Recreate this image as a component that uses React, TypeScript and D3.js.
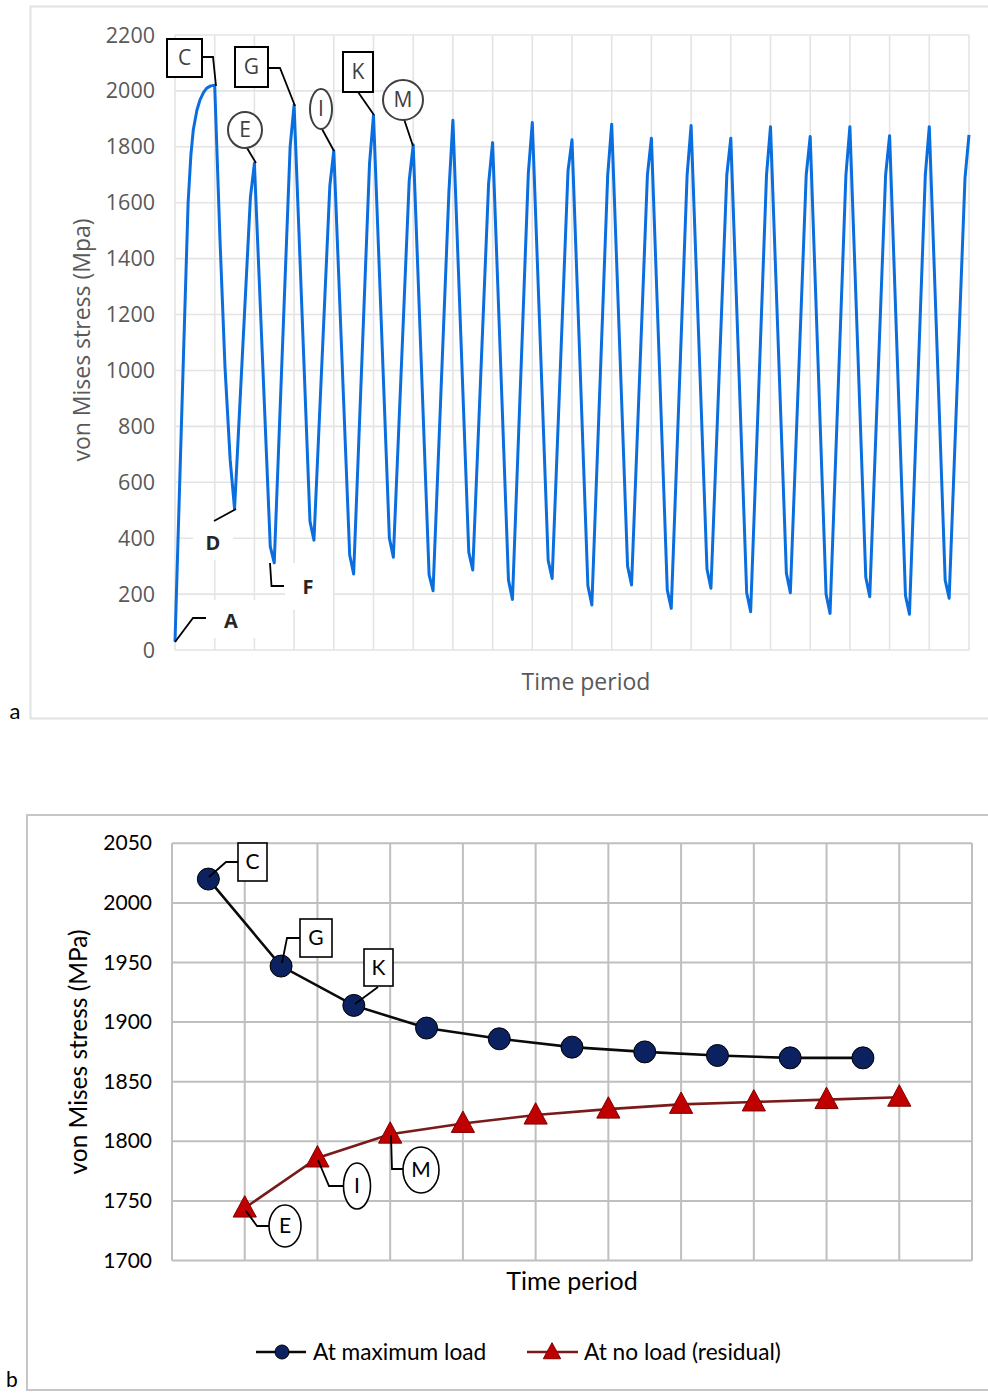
import React from 'react';
import * as d3 from 'd3';

// ---------- Chart a: stress history ----------
const yTicksA = [0, 200, 400, 600, 800, 1000, 1200, 1400, 1600, 1800, 2000, 2200];
const gridCountA = 20;
// first loading up to C and unloading toward D
const loadingTime = [0, 0.21, 0.33, 0.40, 0.46, 0.55, 0.63, 0.72, 0.8, 0.9, 1.0, 1.13, 1.26, 1.39];
const loadingStress = [30, 1037, 1600, 1770, 1860, 1930, 1968, 1995, 2010, 2018, 2020, 1480, 1010, 680];
// valleys at t = 1.5 ... 19.5
const valleyStress = [505, 312, 393, 272, 332, 212, 286, 181, 256, 161, 233, 149, 221, 137, 205, 131, 191, 128, 185];
// kink just before each peak, t = 1.9 ... 19.9
const prePeakStress = [1620, 1800, 1660, 1740, 1680, 1640, 1670, 1705, 1715, 1700, 1700, 1700, 1700, 1700, 1700, 1700, 1700, 1700, 1690];
// peaks at t = 2 ... 20
const peakStress = [1741, 1950, 1786, 1913, 1807, 1895, 1815, 1887, 1825, 1881, 1831, 1876, 1831, 1872, 1837, 1872, 1840, 1872, 1843];
// kink just before each valley, t = 2.4 ... 19.4
const preValleyStress = [370, 460, 340, 400, 270, 350, 250, 320, 230, 300, 215, 290, 205, 275, 200, 260, 195, 250];

// ---------- Chart b: peak stresses ----------
const yTicksB = [1700, 1750, 1800, 1850, 1900, 1950, 2000, 2050];
const maxLoadTime = [0.5, 1.5, 2.5, 3.5, 4.5, 5.5, 6.5, 7.5, 8.5, 9.5];
const maxLoadStress = [2020, 1947, 1914, 1895, 1886, 1879, 1875, 1872, 1870, 1870];
const noLoadTime = [1, 2, 3, 4, 5, 6, 7, 8, 9, 10];
const noLoadStress = [1744, 1786, 1806, 1815, 1822, 1827, 1831, 1833, 1835, 1837];
const seriesNames = ['At maximum load', 'At no load (residual)'];

const FA = '"Open Sans", "Segoe UI", sans-serif';
const FB = 'Lato, "Noto Sans", sans-serif';

export default function App() {
  // chart a scales
  const xA = d3.scaleLinear().domain([0, gridCountA]).range([175, 969]);
  const yA = d3.scaleLinear().domain([0, 2200]).range([650, 35]);
  const pts: [number, number][] = [];
  loadingTime.forEach((t, i) => pts.push([t, loadingStress[i]]));
  valleyStress.forEach((v, k) => {
    pts.push([k + 1.5, v]);
    pts.push([k + 1.9, prePeakStress[k]]);
    pts.push([k + 2, peakStress[k]]);
    if (k < preValleyStress.length) pts.push([k + 2.4, preValleyStress[k]]);
  });
  const lineA = d3.line<[number, number]>().x(d => xA(d[0])).y(d => yA(d[1]));
  const vGridA = d3.range(0, gridCountA + 1);

  // chart b scales
  const xB = d3.scaleLinear().domain([0, 11]).range([172, 972]);
  const yB = d3.scaleLinear().domain([1700, 2050]).range([1260.5, 843.3]);
  const vGridB = d3.range(0, 12);
  const maxPts = maxLoadTime.map((t, i) => [t, maxLoadStress[i]] as [number, number]);
  const noPts = noLoadTime.map((t, i) => [t, noLoadStress[i]] as [number, number]);
  const lineB = d3.line<[number, number]>().x(d => xB(d[0])).y(d => yB(d[1]));

  const tri = (cx: number, cy: number, s: number) =>
    `M${cx},${cy - s * 0.62} L${cx + s * 0.58},${cy + s * 0.45} L${cx - s * 0.58},${cy + s * 0.45} Z`;

  const boxA = (x: number, y: number, w: number, h: number, t: string) => (
    <g>
      <rect x={x} y={y} width={w} height={h} fill="#fff" stroke="#000" strokeWidth={2} />
      <text x={x + w / 2} y={y + h / 2 + 7} textAnchor="middle" fontFamily={FA} fontSize={21} fill="#404040">{t}</text>
    </g>
  );
  const ellA = (cx: number, cy: number, rx: number, ry: number, t: string) => (
    <g>
      <ellipse cx={cx} cy={cy} rx={rx} ry={ry} fill="#fff" stroke="#404040" strokeWidth={2} />
      <text x={cx} y={cy + 7} textAnchor="middle" fontFamily={FA} fontSize={21} fill="#404040">{t}</text>
    </g>
  );
  const boxB = (x: number, y: number, w: number, h: number, t: string) => (
    <g>
      <rect x={x} y={y} width={w} height={h} fill="#fff" stroke="#000" strokeWidth={1.6} />
      <text x={x + w / 2} y={y + h / 2 + 7} textAnchor="middle" fontFamily={FB} fontSize={21} fill="#000">{t}</text>
    </g>
  );
  const ellB = (cx: number, cy: number, rx: number, ry: number, t: string) => (
    <g>
      <ellipse cx={cx} cy={cy} rx={rx} ry={ry} fill="#fff" stroke="#000" strokeWidth={1.6} />
      <text x={cx} y={cy + 7} textAnchor="middle" fontFamily={FB} fontSize={21} fill="#000">{t}</text>
    </g>
  );
  const lead = (d: string) => <path d={d} fill="none" stroke="#000" strokeWidth={1.8} />;

  return (
    <svg width={988} height={1393} style={{ position: 'absolute', left: 0, top: 0, display: 'block' }}>
      <rect x={0} y={0} width={988} height={1393} fill="#fff" />

      {/* ===== Chart a ===== */}
      <path d="M990,6.5 H30.5 V718.5 H990" fill="none" stroke="#e2e2e2" strokeWidth={2} />
      {yTicksA.map(v => (
        <line key={'ha' + v} x1={175} x2={969} y1={yA(v)} y2={yA(v)} stroke="#e4e4e4" strokeWidth={1.6} />
      ))}
      {vGridA.map(i => (
        <line key={'va' + i} x1={xA(i)} x2={xA(i)} y1={35} y2={650} stroke="#e4e4e4" strokeWidth={1.6} />
      ))}
      {yTicksA.map(v => (
        <text key={'ta' + v} x={155} y={yA(v) + 7.5} textAnchor="end" fontFamily={FA} fontSize={21.5} fill="#595959">{v}</text>
      ))}
      <text transform="translate(90,340) rotate(-90)" textAnchor="middle" fontFamily={FA} fontSize={23} fill="#595959">von Mises stress (Mpa)</text>
      <text x={586} y={690} textAnchor="middle" fontFamily={FA} fontSize={23} fill="#595959">Time period</text>
      <text x={15} y={719} textAnchor="middle" fontFamily={FB} fontSize={22} fill="#000">a</text>

      {/* white label backgrounds */}
      <rect x={193} y={520} width={40} height={40} fill="#fff" />
      <rect x={285} y={563} width={48} height={47} fill="#fff" />
      <rect x={212} y={600} width={50} height={38} fill="#fff" />

      <path d={lineA(pts) || ''} fill="none" stroke="#0a6edf" strokeWidth={3} strokeLinejoin="round" />

      {lead('M202,57 H213 L216,86')}
      {lead('M268,68 H280 L295,106')}
      {lead('M358,92 L374,115')}
      {lead('M247,148 L256,163')}
      {lead('M322,129 L334,151')}
      {lead('M404,119 L413,146')}
      {lead('M214,521 L236,509')}
      {lead('M270,563 L271.5,586 H284')}
      {lead('M175,642 L193,618 H206')}
      {boxA(167, 39, 35, 38, 'C')}
      {boxA(235, 47, 33, 40, 'G')}
      {boxA(343, 52, 30, 40, 'K')}
      {ellA(245, 130, 17, 18, 'E')}
      {ellA(321, 109, 11, 20, 'I')}
      {ellA(403, 100, 20, 20, 'M')}
      <text x={213} y={550} textAnchor="middle" fontFamily={FA} fontWeight="bold" fontSize={20} fill="#262626">D</text>
      <text x={308} y={594} textAnchor="middle" fontFamily={FA} fontWeight="bold" fontSize={20} fill="#262626">F</text>
      <text x={231} y={628} textAnchor="middle" fontFamily={FA} fontWeight="bold" fontSize={20} fill="#262626">A</text>

      {/* ===== Chart b ===== */}
      <path d="M990,815 H27 V1390 H990" fill="none" stroke="#c6c6c6" strokeWidth={2} />
      {yTicksB.map(v => (
        <line key={'hb' + v} x1={172} x2={972} y1={yB(v)} y2={yB(v)} stroke="#bfbfbf" strokeWidth={2} />
      ))}
      {vGridB.map(i => (
        <line key={'vb' + i} x1={xB(i)} x2={xB(i)} y1={843.3} y2={1260.5} stroke="#bfbfbf" strokeWidth={2} />
      ))}
      {yTicksB.map(v => (
        <text key={'tb' + v} x={152} y={yB(v) + 7} textAnchor="end" fontFamily={FB} fontSize={21} fill="#000">{v}</text>
      ))}
      <text transform="translate(87,1052) rotate(-90)" textAnchor="middle" fontFamily={FB} fontSize={24.5} fill="#000">von Mises stress (MPa)</text>
      <text x={572} y={1290} textAnchor="middle" fontFamily={FB} fontSize={25} fill="#000">Time period</text>

      <path d={lineB(noPts) || ''} fill="none" stroke="#7a1a1a" strokeWidth={2.6} />
      <path d={lineB(maxPts) || ''} fill="none" stroke="#0a0a0a" strokeWidth={2.6} />
      {noPts.map((d, i) => (
        <path key={'tr' + i} d={tri(xB(d[0]), yB(d[1]), 20)} fill="#c00000" stroke="#7f0000" strokeWidth={1} />
      ))}
      {maxPts.map((d, i) => (
        <circle key={'ci' + i} cx={xB(d[0])} cy={yB(d[1])} r={11} fill="#0b2160" stroke="#000" strokeWidth={1} />
      ))}

      {lead('M209,877 L226,862 H238')}
      {lead('M282,963 L287,938 H300')}
      {lead('M355,1004 L378,987')}
      {lead('M246,1211 L257,1226 H269')}
      {lead('M318,1160 L329,1186 H343.5')}
      {lead('M391,1135 L392,1169 H403')}
      {boxB(238, 843, 29, 38, 'C')}
      {boxB(300, 919, 32, 38, 'G')}
      {boxB(364, 949, 29, 37, 'K')}
      {ellB(285, 1226, 16, 21, 'E')}
      {ellB(357, 1186, 13.5, 23, 'I')}
      {ellB(421, 1170, 18, 23, 'M')}

      {/* legend */}
      <line x1={256} x2={306} y1={1352} y2={1352} stroke="#0a0a0a" strokeWidth={2.6} />
      <circle cx={282} cy={1352} r={7} fill="#0b2160" stroke="#000" strokeWidth={1} />
      <text x={313} y={1359.5} fontFamily={FB} fontSize={22.7} fill="#000">{seriesNames[0]}</text>
      <line x1={527} x2={578} y1={1352} y2={1352} stroke="#7a1a1a" strokeWidth={2.6} />
      <path d={tri(552, 1352, 15)} fill="#c00000" stroke="#7f0000" strokeWidth={1} />
      <text x={584} y={1359.5} fontFamily={FB} fontSize={22.7} fill="#000">{seriesNames[1]}</text>
      <text x={12} y={1387} textAnchor="middle" fontFamily={FB} fontSize={21} fill="#000">b</text>
    </svg>
  );
}
